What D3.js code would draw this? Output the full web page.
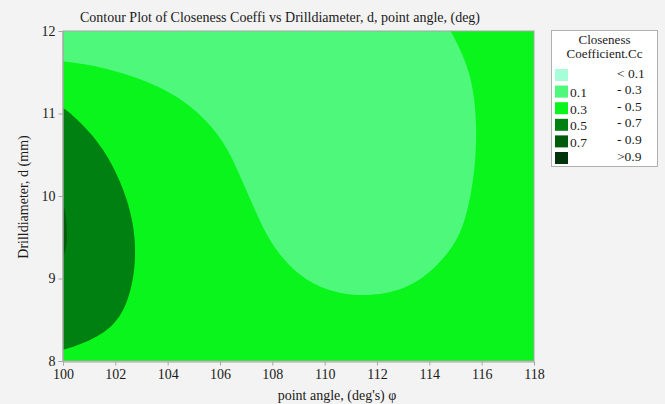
<!DOCTYPE html>
<html><head><meta charset="utf-8">
<script src="https://cdn.jsdelivr.net/npm/d3@7"></script>
<style>
body{margin:0;background:#f3f3f3;}
text{font-family:"Liberation Serif","Times New Roman",serif;fill:#1a1a1a;}
</style>
</head><body>
<svg id="chart" width="665" height="404"></svg>
<script>
// ---- data ----
const xValues = [100,101,102,103,104,105,106,107,108,109,110,111,112,113,114,115,116,117,118];
const yValues = [12,11.5,11,10.5,10,9.5,9,8.5,8];
// Closeness coefficient estimates, one row per yValue (top row = 12)
const zRow12   = [0.20,0.20,0.20,0.20,0.20,0.19,0.18,0.17,0.17,0.17,0.17,0.18,0.19,0.22,0.26,0.31,0.37,0.41,0.44];
const zRow11_5 = [0.335,0.325,0.304,0.28,0.25,0.23,0.20,0.18,0.17,0.16,0.16,0.16,0.17,0.19,0.22,0.26,0.327,0.39,0.43];
const zRow11   = [0.527,0.44,0.42,0.405,0.364,0.313,0.248,0.20,0.18,0.17,0.16,0.16,0.16,0.18,0.20,0.24,0.315,0.38,0.42];
const zRow10_5 = [0.62,0.59,0.467,0.43,0.40,0.37,0.352,0.231,0.19,0.17,0.16,0.16,0.16,0.17,0.20,0.24,0.315,0.38,0.42];
const zRow10   = [0.695,0.60,0.55,0.439,0.42,0.40,0.38,0.31,0.21,0.19,0.18,0.17,0.17,0.18,0.21,0.25,0.333,0.39,0.43];
const zRow9_5  = [0.715,0.615,0.565,0.484,0.45,0.44,0.43,0.42,0.27,0.222,0.20,0.19,0.19,0.20,0.228,0.285,0.36,0.41,0.44];
const zRow9    = [0.68,0.60,0.56,0.48,0.46,0.45,0.44,0.43,0.385,0.305,0.255,0.24,0.24,0.255,0.308,0.36,0.39,0.42,0.44];
const zRow8_5  = [0.58,0.55,0.52,0.44,0.44,0.44,0.44,0.44,0.43,0.42,0.405,0.376,0.383,0.405,0.42,0.43,0.43,0.44,0.45];
const zRow8    = [0.47,0.46,0.395,0.40,0.41,0.42,0.42,0.42,0.42,0.42,0.42,0.42,0.42,0.42,0.43,0.43,0.44,0.44,0.45];
const zRows = [zRow12,zRow11_5,zRow11,zRow10_5,zRow10,zRow9_5,zRow9,zRow8_5,zRow8];

const thresholds = [0.3,0.5,0.7,0.9];
const xTicks = [100,102,104,106,108,110,112,114,116,118];
const yTicks = [8,9,10,11,12];
const legendLeft  = ["", "0.1", "0.3", "0.5", "0.7", ""];
const legendRight = ["< 0.1", "- 0.3", "- 0.5", "- 0.7", "- 0.9", ">0.9"];

// ---- styles ----
const bandColors = ["#a8fdd9","#4df87a","#0af51b","#008010","#005c0b","#00330a"];
const M = {left:63, right:534, top:31, bottom:361};

const svg = d3.select("#chart");
svg.append("rect").attr("width",665).attr("height",404).attr("fill","#f3f3f3");

const x = d3.scaleLinear().domain([100,118]).range([M.left,M.right]);
const y = d3.scaleLinear().domain([8,12]).range([M.bottom,M.top]);

svg.append("clipPath").attr("id","clip").append("rect")
  .attr("x",M.left).attr("y",M.top).attr("width",M.right-M.left).attr("height",M.bottom-M.top);

const g = svg.append("g").attr("clip-path","url(#clip)");
// base band 0.1 - 0.3
g.append("rect").attr("x",M.left).attr("y",M.top).attr("width",M.right-M.left).attr("height",M.bottom-M.top)
  .attr("fill",bandColors[1]);

const n = xValues.length, m = yValues.length;
const values = zRows.flat();
const contours = d3.contours().size([n,m]).thresholds(thresholds)(values);
const dxv = xValues[1]-xValues[0], dyv = yValues[1]-yValues[0];
const toPx = p => [x(xValues[0] + (p[0]-0.5)*dxv), y(yValues[0] + (p[1]-0.5)*dyv)];

// drawing-only smoothing of contour rings (resample + moving average, tapered near the plot edge)
function smoothRing(pts, win, iters){
  const base = [];
  const N = pts.length;
  for (let i=0;i<N;i++){
    const a=pts[i], b=pts[(i+1)%N];
    const L=Math.hypot(b[0]-a[0], b[1]-a[1]);
    const k=Math.max(1, Math.ceil(L/3));
    for (let j=0;j<k;j++) base.push([a[0]+(b[0]-a[0])*j/k, a[1]+(b[1]-a[1])*j/k]);
  }
  const inside = p => p[0]>M.left+1 && p[0]<M.right-1 && p[1]>M.top+1 && p[1]<M.bottom-1;
  const K = base.length;
  const fixed = base.map(p=>!inside(p));
  const fixedIdx = fixed.map((f,i)=>f?i:-1).filter(i=>i>=0);
  const wins = base.map((p,i)=>{
    if (fixed[i]) return 0;
    if (!fixedIdx.length) return win;
    let dmin = Infinity;
    fixedIdx.forEach(j=>{ const d=Math.abs(i-j); dmin=Math.min(dmin, d, K-d); });
    return Math.max(0, Math.min(win, dmin-1));
  });
  let cur = base;
  for (let it=0; it<iters; it++){
    cur = cur.map((p,i)=>{
      const w = wins[i];
      if (!w) return p;
      let sx=0, sy=0, c=0;
      for (let d=-w; d<=w; d++){ const q=cur[(i+d+K)%K]; sx+=q[0]; sy+=q[1]; c++; }
      return [sx/c, sy/c];
    });
  }
  return cur;
}
const linLine = d3.line().curve(d3.curveLinearClosed);
const tightLine = d3.line().curve(d3.curveCatmullRomClosed.alpha(0.5));
contours.forEach((ct,k)=>{
  let d = "";
  ct.coordinates.forEach(poly=>poly.forEach(ring=>{
    const pts = ring.slice(0,-1).map(toPx);
    if (pts.length<3) return;
    d += ct.value >= 0.7 ? tightLine(pts) : linLine(smoothRing(pts, 6, 3));
  }));
  if (d) g.append("path").attr("d",d).attr("fill",bandColors[k+2]).attr("fill-rule","evenodd");
});

// frame
svg.append("rect").attr("x",M.left).attr("y",M.top).attr("width",M.right-M.left).attr("height",M.bottom-M.top)
  .attr("fill","none").attr("stroke","#a6a6a6").attr("stroke-width",1);

// axes
const xAxis = svg.append("g").attr("transform",`translate(0,${M.bottom+0.5})`)
  .call(d3.axisBottom(x).tickValues(xTicks).tickSize(4).tickPadding(4).tickFormat(d3.format("d")));
const yAxis = svg.append("g").attr("transform",`translate(${M.left-0.5},0)`)
  .call(d3.axisLeft(y).tickValues(yTicks).tickSize(4).tickPadding(3).tickFormat(d3.format("d")));
[xAxis,yAxis].forEach(a=>{
  a.select(".domain").attr("stroke","#a6a6a6");
  a.selectAll(".tick line").attr("stroke","#a6a6a6");
  a.selectAll(".tick text").attr("font-family","Liberation Serif").attr("font-size",14).attr("fill","#1a1a1a");
});

// titles
svg.append("text").attr("x",280).attr("y",22).attr("text-anchor","middle").attr("font-size",14)
  .text("Contour Plot of Closeness Coeffi vs Drilldiameter, d, point angle, (deg)");
svg.append("text").attr("x",337).attr("y",400).attr("text-anchor","middle").attr("font-size",14)
  .text("point angle, (deg's) φ");
svg.append("text").attr("transform","translate(28,197) rotate(-90)").attr("text-anchor","middle").attr("font-size",14)
  .text("Drilldiameter, d (mm)");

// legend
const lg = svg.append("g");
lg.append("rect").attr("x",551.5).attr("y",30.5).attr("width",106).attr("height",136)
  .attr("fill","#fff").attr("stroke","#b0b0b0");
lg.append("text").attr("x",604.5).attr("y",43.8).attr("text-anchor","middle").attr("font-size",13).text("Closeness");
lg.append("text").attr("x",604.5).attr("y",58.3).attr("text-anchor","middle").attr("font-size",13).text("Coefficient.Cc");
legendRight.forEach((t,i)=>{
  const sy = 69 + i*16.6;
  lg.append("rect").attr("x",555).attr("y",sy).attr("width",13).attr("height",12).attr("fill",bandColors[i]);
  if (legendLeft[i]) lg.append("text").attr("x",570).attr("y",sy+11.5).attr("font-size",13.5).text(legendLeft[i]);
  lg.append("text").attr("x",617).attr("y",sy+8.5).attr("font-size",13.5).text(t);
});
</script>
</body></html>
